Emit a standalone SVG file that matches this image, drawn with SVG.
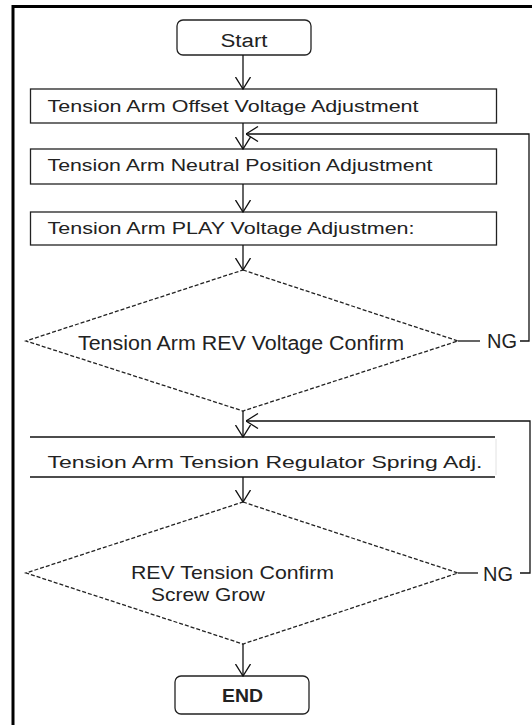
<svg xmlns="http://www.w3.org/2000/svg" width="532" height="725" viewBox="0 0 532 725">
<style>
.bg{fill:#fff}
.box{fill:#fff;stroke:#222;stroke-width:1.3}
.dia{fill:#fff;stroke:#222;stroke-width:1.3;stroke-dasharray:4 2}
.ln{fill:none;stroke:#111;stroke-width:1.3}
.t{font-family:"Liberation Sans",Arial,sans-serif;fill:#222}
.bt{font-size:17px}
.dt{font-size:20px}
.ng{font-size:20px}
.frame{fill:none;stroke:#000;stroke-width:3}
</style>
<defs>
<marker id="ah" markerUnits="userSpaceOnUse" viewBox="0 0 13 16" refX="12.5" refY="8" markerWidth="13" markerHeight="16" orient="auto">
<path d="M0.5,0.5 L12.5,8 L0.5,15.5" fill="none" stroke="#111" stroke-width="1.3"/>
</marker>
</defs>
<rect class="bg" x="0" y="0" width="532" height="725"/>
<path class="frame" d="M13,725 V6.5 H532"/>

<g id="start">
<rect class="box" x="177" y="20" width="134" height="35" rx="6"/>
<text class="t" x="244" y="47" font-size="18" text-anchor="middle" textLength="47" lengthAdjust="spacingAndGlyphs">Start</text>
</g>

<g id="offset">
<rect class="box" x="30.5" y="89" width="466" height="34"/>
<text class="t bt" x="47.5" y="112" textLength="371" lengthAdjust="spacingAndGlyphs">Tension Arm Offset Voltage Adjustment</text>
</g>

<g id="neutral">
<rect class="box" x="30.5" y="149" width="466" height="35"/>
<text class="t bt" x="47.5" y="171" textLength="385" lengthAdjust="spacingAndGlyphs">Tension Arm Neutral Position Adjustment</text>
</g>

<g id="play">
<rect class="box" x="30.5" y="212" width="466" height="33"/>
<text class="t bt" x="47.5" y="234" textLength="367" lengthAdjust="spacingAndGlyphs">Tension Arm PLAY Voltage Adjustmen:</text>
</g>

<g id="rev-voltage">
<polygon class="dia" points="243,270 458,341 243,411 26,341"/>
<text class="t dt" x="78" y="350" textLength="326" lengthAdjust="spacingAndGlyphs">Tension Arm REV Voltage Confirm</text>
</g>

<g id="spring">
<line class="ln" x1="30" y1="437" x2="495" y2="437"/>
<line class="ln" x1="30" y1="477" x2="495" y2="477"/>
<line x1="496" y1="439" x2="496" y2="475" stroke="#e2e2e2" stroke-width="1"/>
<text class="t bt" x="47.5" y="468" textLength="435" lengthAdjust="spacingAndGlyphs">Tension Arm Tension Regulator Spring Adj.</text>
</g>

<g id="rev-tension">
<polygon class="dia" points="243,502 458,573 243,644 26,573"/>
<text class="t" x="131" y="579" font-size="19" textLength="203" lengthAdjust="spacingAndGlyphs">REV Tension Confirm</text>
<text class="t" x="151" y="601" font-size="19" textLength="114" lengthAdjust="spacingAndGlyphs">Screw Grow</text>
</g>

<g id="end">
<rect class="box" x="175" y="676" width="134" height="38" rx="6"/>
<text class="t" x="242.5" y="702" font-size="18" font-weight="bold" text-anchor="middle" textLength="41" lengthAdjust="spacingAndGlyphs">END</text>
</g>

<g id="connectors">
<line class="ln" x1="243" y1="55" x2="243" y2="89" marker-end="url(#ah)"/>
<line class="ln" x1="243" y1="123" x2="243" y2="149" marker-end="url(#ah)"/>
<line class="ln" x1="243" y1="184" x2="243" y2="212" marker-end="url(#ah)"/>
<line class="ln" x1="243" y1="245" x2="243" y2="270" marker-end="url(#ah)"/>
<line class="ln" x1="243" y1="411" x2="243" y2="437" marker-end="url(#ah)"/>
<line class="ln" x1="243" y1="477" x2="243" y2="502" marker-end="url(#ah)"/>
<line class="ln" x1="243" y1="644" x2="243" y2="676" marker-end="url(#ah)"/>
<line class="ln" x1="458" y1="341" x2="480" y2="341"/>
<path class="ln" d="M520,341 H529 V134 H246" marker-end="url(#ah)"/>
<line class="ln" x1="458" y1="573" x2="478" y2="573"/>
<path class="ln" d="M520,573 H530 V421 H246" marker-end="url(#ah)"/>
<text class="t ng" x="487" y="348">NG</text>
<text class="t ng" x="483" y="581">NG</text>
</g>
</svg>
